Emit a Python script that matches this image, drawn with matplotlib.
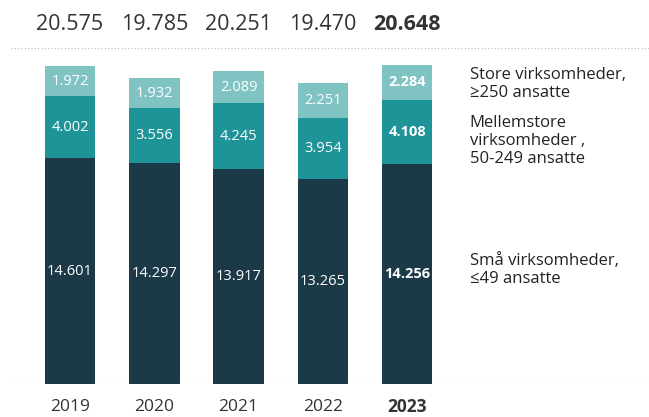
import matplotlib.pyplot as plt
import numpy as np
from matplotlib.transforms import blended_transform_factory

years = ["2019", "2020", "2021", "2022", "2023"]
small = [14601, 14297, 13917, 13265, 14256]
medium = [4002, 3556, 4245, 3954, 4108]
large = [1972, 1932, 2089, 2251, 2284]
totals = [20575, 19785, 20251, 19470, 20648]

legend_labels = [
    "Store virksomheder,\n≥250 ansatte",
    "Mellemstore\nvirksomheder ,\n50-249 ansatte",
    "Små virksomheder,\n≤49 ansatte",
]

colors = ["#1b3947", "#1e9398", "#7fc3c3"]
text_col = "#333333"


def fmt(v):
    return f"{v:,}".replace(",", ".")


plt.rcParams["font.family"] = ["Open Sans", "DejaVu Sans"]

fig = plt.figure(figsize=(6.49, 4.17), dpi=100)
ax = fig.add_axes([11 / 649, 33 / 417, 638 / 649, 336 / 417])

x = np.arange(len(years))
w = 0.6
small = np.array(small)
medium = np.array(medium)
large = np.array(large)

segs = [(small, np.zeros(len(x))), (medium, small), (large, small + medium)]
for (vals, bottom), col in zip(segs, colors):
    ax.bar(x, vals, w, bottom=bottom, color=col, zorder=2)
    for i, (v, b) in enumerate(zip(vals, bottom)):
        ax.text(x[i], b + v / 2, fmt(int(v)), ha="center", va="center",
                color="white", fontsize=10.5,
                fontweight="bold" if i == len(x) - 1 else "normal")

ax.set_xlim(-(70 - 11) / 84.3, 4 + (649 - 407) / 84.3)
ax.set_ylim(0, 336 / 0.01546)

ax.axhline(0, color="#bbbbbb", lw=0.8, ls=(0, (1, 2)), zorder=1)
ax.axhline(ax.get_ylim()[1], color="#bbbbbb", lw=0.8, ls=(0, (1, 2)), zorder=1)

tr = blended_transform_factory(ax.transData, ax.transAxes)
for i, (yr, t) in enumerate(zip(years, totals)):
    bold = "bold" if i == len(x) - 1 else "normal"
    ax.text(x[i], 1 + 23 / 336, fmt(t), transform=tr, ha="center", va="center",
            fontsize=15.5, color=text_col, fontweight=bold, clip_on=False)
    ax.text(x[i], -23 / 336, yr, transform=tr, ha="center", va="center",
            fontsize=12.5, color=text_col, fontweight=bold, clip_on=False)

leg_x = (470 - 70) / 84.3
for lab, ypx in zip(legend_labels, [84, 141, 270]):
    ax.text(leg_x, (384 - ypx) / 336, lab, transform=tr, ha="left", va="center",
            fontsize=12, color="#222222", linespacing=1.2)

ax.axis("off")
fig.savefig("out.png", dpi=100)
